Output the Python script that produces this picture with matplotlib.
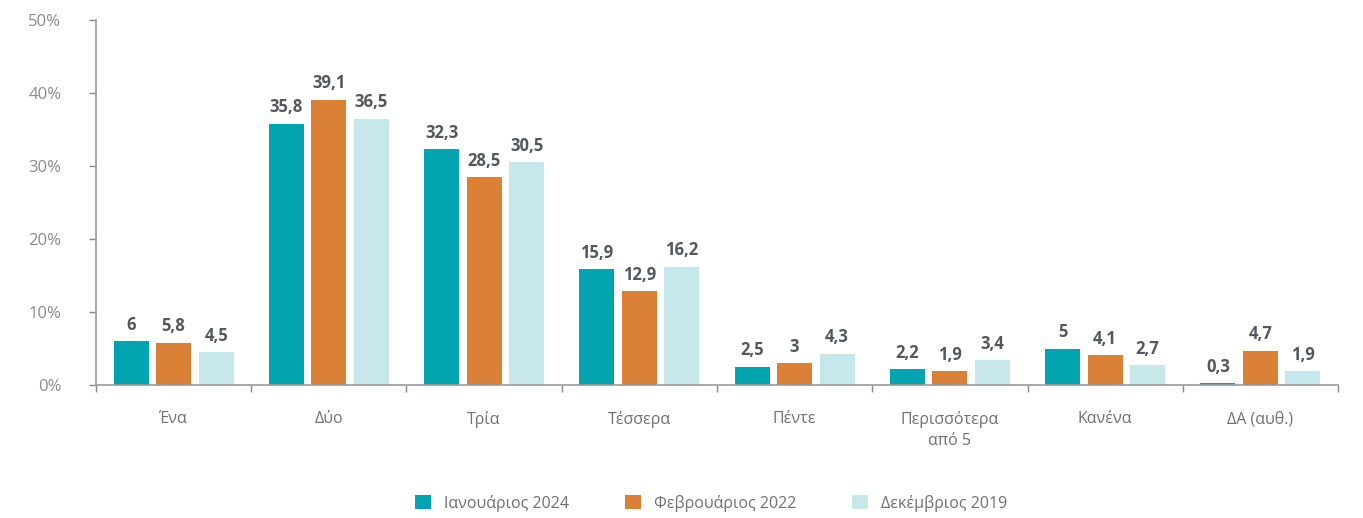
import matplotlib
matplotlib.use("Agg")
import matplotlib.pyplot as plt
import numpy as np

plt.rcParams['font.family'] = ['Open Sans', 'Noto Sans', 'DejaVu Sans']

categories = ["Ένα", "Δύο", "Τρία", "Τέσσερα", "Πέντε", "Περισσότερα\nαπό 5", "Κανένα", "ΔΑ (αυθ.)"]
series_names = ["Ιανουάριος 2024", "Φεβρουάριος 2022", "Δεκέμβριος 2019"]
jan_2024 = [6, 35.8, 32.3, 15.9, 2.5, 2.2, 5, 0.3]
feb_2022 = [5.8, 39.1, 28.5, 12.9, 3, 1.9, 4.1, 4.7]
dec_2019 = [4.5, 36.5, 30.5, 16.2, 4.3, 3.4, 2.7, 1.9]
yticks = [0, 10, 20, 30, 40, 50]

colors = ["#00A4AF", "#DB8037", "#C6E8EA"]

fig = plt.figure(figsize=(13.63, 5.18), dpi=100)
ax = fig.add_axes([96/1363, 1-385/518, (1338-96)/1363, (385-20)/518])

x = np.arange(len(categories))
step = 0.274
width = 0.226
for i, (vals, name) in enumerate(zip([jan_2024, feb_2022, dec_2019], series_names)):
    pos = x + (i - 1) * step
    ax.bar(pos, vals, width=width, color=colors[i], label=name, zorder=2)
    for px, v in zip(pos, vals):
        txt = ("%g" % v).replace(".", ",")
        ax.text(px, v + 1.0, txt, ha="center", va="bottom", fontsize=12,
                fontweight="bold", color="#55575c")

ax.set_xlim(-0.5, len(categories) - 0.5)
ax.set_ylim(0, 50)
ax.set_yticks(yticks)
ax.set_yticklabels(["%d%%" % t for t in yticks])
ax.set_xticks(x)
ax.set_xticklabels(categories, fontsize=11.5, color="#707070", linespacing=1.4)
ax.set_xticks(np.arange(-0.5, len(categories)), minor=True)
ax.tick_params(axis="x", which="major", length=0, pad=19)
ax.tick_params(axis="x", which="minor", length=5, color="#888888", width=1)
ax.tick_params(axis="y", length=5, color="#888888", width=1, labelsize=12,
               labelcolor="#8a8a8a", pad=20)
ax.spines["top"].set_visible(False)
ax.spines["right"].set_visible(False)
ax.spines["left"].set_color("#999999")
ax.spines["bottom"].set_color("#999999")
ax.spines["left"].set_linewidth(1.2)
ax.spines["bottom"].set_linewidth(1.2)

leg = fig.legend(loc="center", bbox_to_anchor=(711/1363, 1-503/518), ncol=3,
                 frameon=False, fontsize=11.5, handlelength=1.0, handleheight=1.0,
                 columnspacing=3.5, handletextpad=0.8)
for t in leg.get_texts():
    t.set_color("#707070")

fig.savefig("out.png", dpi=100)
